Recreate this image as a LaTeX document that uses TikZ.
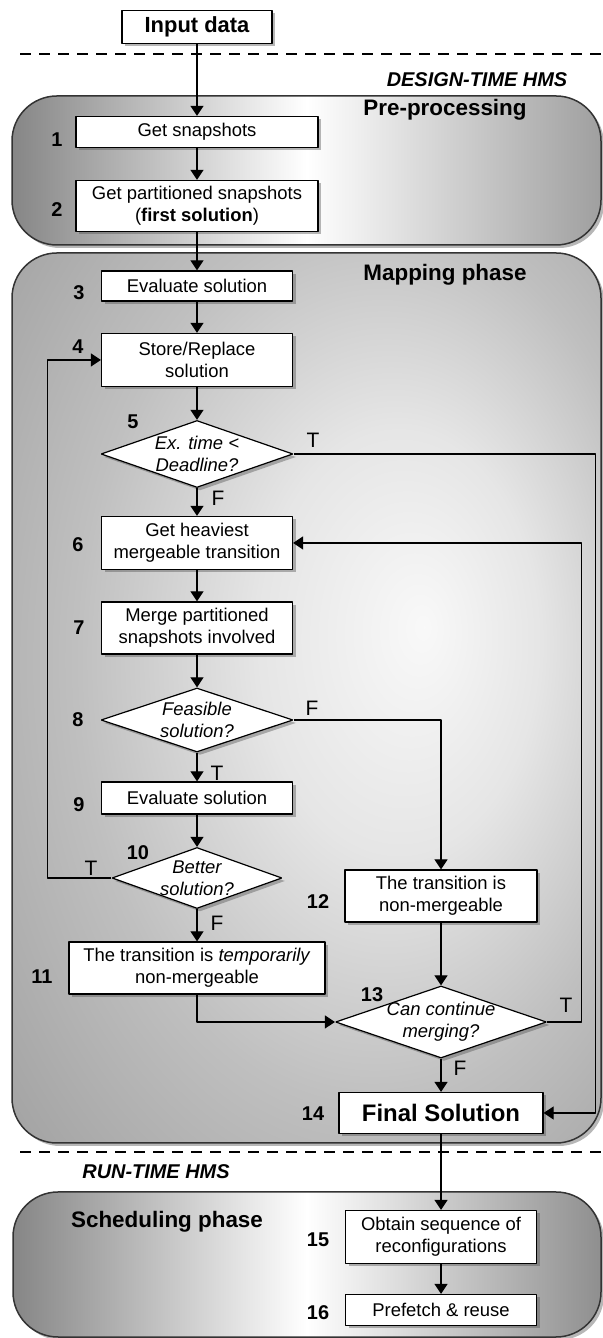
\documentclass[tikz,border=0pt]{standalone}
\usepackage{fontspec}
\setmainfont{Liberation Sans}
\usetikzlibrary{shapes.geometric,arrows.meta,shadows}

\pgfdeclareradialshading{mapglow}{\pgfpoint{10bp}{4bp}}{%
  color(0bp)=(gray!5); color(12bp)=(gray!20); color(25bp)=(gray!50); color(38bp)=(gray!72); color(55bp)=(gray!100)}

\begin{document}
\begin{tikzpicture}[>={Triangle[length=10bp,width=13bp]},line join=bevel,
  stepbox/.style={draw,fill=white,minimum width=191bp,inner sep=2bp,align=center,
    font=\fontsize{18.5}{22}\selectfont,
    drop shadow={shadow xshift=3bp,shadow yshift=-3bp,opacity=0.4,fill=black!70}},
  decision/.style={diamond,draw,fill=white,aspect=2.9,inner sep=-6bp,align=center,
    font=\itshape\fontsize{18.5}{22}\selectfont,
    drop shadow={shadow xshift=3bp,shadow yshift=-3bp,opacity=0.4,fill=black!70}},
  stepnum/.style={font=\bfseries\fontsize{20}{23}\selectfont},
  branch/.style={font=\fontsize{21}{24}\selectfont},
  phase/.style={draw=black!80,line width=1.5bp,rounded corners=45bp,
    drop shadow={shadow xshift=3bp,shadow yshift=-3bp,opacity=0.4,fill=black!70}},
  phasetitle/.style={font=\bfseries\fontsize{22.5}{26}\selectfont},
  hms/.style={font=\bfseries\itshape\fontsize{20}{23}\selectfont},
  divider/.style={line width=2.8bp,dash pattern=on 11bp off 8bp},
  flow/.style={->}]
  \pgfsetlinewidth{1.2bp}
  \useasboundingbox (0bp,0bp) rectangle (603bp,1338bp);
%%
  % Phase: Pre-processing
  \draw[phase,left color=gray!95,right color=gray!75,middle color=white] (12bp,1093bp) rectangle (601bp,1242bp);
  % Phase: Mapping
  \draw[phase,shading=mapglow] (12bp,195bp) rectangle (601bp,1085bp);
  % Phase: Scheduling
  \draw[phase,left color=gray!95,right color=gray!88,middle color=white] (13bp,1bp) rectangle (601bp,146bp);
  % Dividers
  \draw[divider] (20bp,1284bp) -- (603bp,1284bp);
  \draw[divider] (20bp,186bp) -- (603bp,186bp);
  \node[hms] (designhms) at (477bp,1258bp) {DESIGN-TIME HMS};
  \node[hms] (runhms) at (156bp,166bp) {RUN-TIME HMS};
  \node[phasetitle] (pretitle) at (445bp,1228bp) {Pre-processing};
  \node[phasetitle] (maptitle) at (445bp,1063bp) {Mapping phase};
  \node[phasetitle] (schedtitle) at (167bp,116bp) {Scheduling phase};
  % Node: Input data
  \node[stepbox,minimum width=150bp,minimum height=33bp,font=\bfseries\fontsize{22}{25}\selectfont] (input) at (197bp,1311bp) {Input data};
  % Node: 1
  \node[stepbox,minimum width=242bp,minimum height=31bp] (snap) at (197bp,1206bp) {Get snapshots};
  \node[stepnum] (n1) at (57bp,1198bp) {1};
  % Node: 2
  \node[stepbox,minimum width=242bp,minimum height=51bp] (partition) at (197bp,1132bp) {Get partitioned snapshots\\(\textbf{first solution})};
  \node[stepnum] (n2) at (57bp,1128bp) {2};
  % Node: 3
  \node[stepbox,minimum height=30bp] (evalfirst) at (197bp,1052bp) {Evaluate solution};
  \node[stepnum] (n3) at (79bp,1045bp) {3};
  % Node: 4
  \node[stepbox,minimum height=53bp] (store) at (197bp,978bp) {Store/Replace\\solution};
  \node[stepnum] (n4) at (78bp,991bp) {4};
  % Node: 5
  \node[decision,minimum width=192bp,minimum height=67bp] (deadline) at (197bp,884bp) {Ex. time <\\Deadline?};
  \node[stepnum] (n5) at (133bp,916bp) {5};
  % Node: 6
  \node[stepbox,minimum height=53bp] (heaviest) at (197bp,795bp) {Get heaviest\\mergeable transition};
  \node[stepnum] (n6) at (78bp,793bp) {6};
  % Node: 7
  \node[stepbox,minimum height=52bp] (merge) at (197bp,710bp) {Merge partitioned\\snapshots involved};
  \node[stepnum] (n7) at (79bp,710bp) {7};
  % Node: 8
  \node[decision,minimum width=192bp,minimum height=64bp] (feasible) at (197bp,618bp) {Feasible\\solution?};
  \node[stepnum] (n8) at (78bp,618bp) {8};
  % Node: 9
  \node[stepbox,minimum height=32bp] (evalagain) at (197bp,540bp) {Evaluate solution};
  \node[stepnum] (n9) at (79bp,533bp) {9};
  % Node: 10
  \node[decision,minimum width=170bp,minimum height=61bp] (better) at (197bp,460bp) {Better\\solution?};
  \node[stepnum] (n10) at (138bp,485bp) {10};
  % Node: 11
  \node[stepbox,minimum width=256bp,minimum height=52bp] (temporary) at (197bp,370bp) {The transition is \textit{temporarily}\\non-mergeable};
  \node[stepnum] (n11) at (42bp,361bp) {11};
  % Node: 12
  \node[stepbox,minimum width=192bp,minimum height=52bp] (nonmerge) at (441bp,442bp) {The transition is\\non-mergeable};
  \node[stepnum] (n12) at (318bp,436bp) {12};
  % Node: 13
  \node[decision,minimum width=211bp,minimum height=72bp] (continue) at (441bp,316bp) {Can continue\\merging?};
  \node[stepnum] (n13) at (372bp,343bp) {13};
  % Node: 14
  \node[stepbox,minimum width=204bp,minimum height=41bp,font=\bfseries\fontsize{24}{27}\selectfont] (final) at (441bp,225bp) {Final Solution};
  \node[stepnum] (n14) at (313bp,224bp) {14};
  % Node: 15
  \node[stepbox,minimum height=53bp] (sequence) at (441bp,101bp) {Obtain sequence of\\reconfigurations};
  \node[stepnum] (n15) at (318bp,98bp) {15};
  % Node: 16
  \node[stepbox,minimum height=31bp] (prefetch) at (441bp,28bp) {Prefetch \& reuse};
  \node[stepnum] (n16) at (318bp,25bp) {16};
  % Branch labels
  \node[branch] (t5) at (313bp,898bp) {T};
  \node[branch] (f5) at (218bp,840bp) {F};
  \node[branch] (f8) at (312bp,630bp) {F};
  \node[branch] (t8) at (217bp,565bp) {T};
  \node[branch] (t10) at (91bp,470bp) {T};
  \node[branch] (f10) at (217bp,415bp) {F};
  \node[branch] (t13) at (566bp,333bp) {T};
  \node[branch] (f13) at (460bp,270bp) {F};
  % Edge: input -> snap
  \draw[flow] (input) -- (snap);
  % Edge: snap -> partition
  \draw[flow] (snap) -- (partition);
  % Edge: partition -> evalfirst
  \draw[flow] (partition) -- (evalfirst);
  % Edge: evalfirst -> store
  \draw[flow] (evalfirst) -- (store);
  % Edge: store -> deadline
  \draw[flow] (store) -- (deadline);
  % Edge: deadline -> heaviest (F)
  \draw[flow] (deadline) -- (heaviest);
  % Edge: deadline -> final (T)
  \draw[flow] (deadline.east) -- ++(302bp,0bp) |- (final.east);
  % Edge: heaviest -> merge
  \draw[flow] (heaviest) -- (merge);
  % Edge: merge -> feasible
  \draw[flow] (merge) -- (feasible);
  % Edge: feasible -> evalagain (T)
  \draw[flow] (feasible) -- (evalagain);
  % Edge: feasible -> nonmerge (F)
  \draw[flow] (feasible.east) -| (nonmerge);
  % Edge: evalagain -> better
  \draw[flow] (evalagain) -- (better);
  % Edge: better -> store (T)
  \draw[flow] (better.west) -- ++(-64bp,0bp) |- (store.west);
  % Edge: better -> temporary (F)
  \draw[flow] (better) -- (temporary);
  % Edge: temporary -> continue
  \draw[flow] (temporary.south) |- (continue.west);
  % Edge: nonmerge -> continue
  \draw[flow] (nonmerge) -- (continue);
  % Edge: continue -> heaviest (T)
  \draw[flow] (continue.east) -- ++(34bp,0bp) |- (heaviest.east);
  % Edge: continue -> final (F)
  \draw[flow] (continue) -- (final);
  % Edge: final -> sequence
  \draw[flow] (final) -- (sequence);
  % Edge: sequence -> prefetch
  \draw[flow] (sequence) -- (prefetch);
%
\end{tikzpicture}
\end{document}
